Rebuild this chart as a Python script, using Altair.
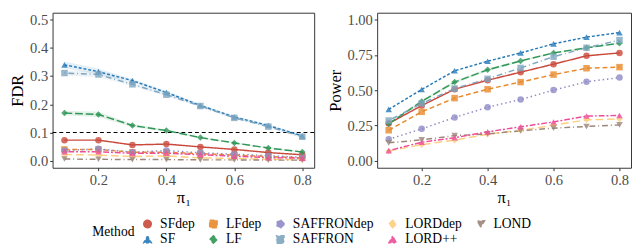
import altair as alt
import pandas as pd

pi_vals = [0.1, 0.2, 0.3, 0.4, 0.5, 0.6, 0.7, 0.8]
methods = ["SFdep", "LFdep", "SAFFRONdep", "LORDdep", "LOND", "SF", "LF", "SAFFRON", "LORD++"]
colors = ["#C94A3C", "#E8892C", "#8E8AC6", "#FDCF7F", "#9C8679",
          "#2479B8", "#2E9657", "#7FA6BF", "#EE4D98"]
shapes = ["circle", "square", "circle", "diamond", "triangle-down",
          "triangle-up", "diamond", "square", "triangle-up"]
dashes = [[1, 0], [5, 3], [1.5, 3], [8, 4], [6, 3, 1, 3],
          [3, 2], [8, 3], [1, 3, 6, 3], [2, 2, 6, 2]]

fdr = {
    "SF":         [0.340, 0.316, 0.284, 0.242, 0.196, 0.155, 0.125, 0.088],
    "SAFFRON":    [0.311, 0.306, 0.271, 0.234, 0.194, 0.152, 0.121, 0.085],
    "LF":         [0.169, 0.164, 0.125, 0.107, 0.082, 0.063, 0.045, 0.031],
    "SFdep":      [0.073, 0.073, 0.056, 0.059, 0.049, 0.040, 0.029, 0.021],
    "SAFFRONdep": [0.036, 0.042, 0.030, 0.036, 0.028, 0.023, 0.018, 0.012],
    "LFdep":      [0.040, 0.040, 0.030, 0.030, 0.025, 0.020, 0.015, 0.010],
    "LORD++":     [0.032, 0.032, 0.026, 0.027, 0.021, 0.016, 0.011, 0.009],
    "LORDdep":    [0.022, 0.020, 0.015, 0.017, 0.010, 0.008, 0.005, 0.004],
    "LOND":       [0.006, 0.005, 0.004, 0.004, 0.003, 0.003, 0.002, 0.002],
}
fdr_band = {
    "SF":      [0.012, 0.010, 0.006, 0.005, 0.004, 0.004, 0.004, 0.004],
    "SAFFRON": [0.010, 0.010, 0.006, 0.005, 0.004, 0.004, 0.004, 0.004],
    "LF":      [0.008, 0.010, 0.005, 0.004, 0.003, 0.003, 0.003, 0.003],
}
power = {
    "SF":         [0.364, 0.505, 0.638, 0.706, 0.765, 0.829, 0.877, 0.909],
    "LF":         [0.262, 0.421, 0.558, 0.645, 0.708, 0.765, 0.801, 0.833],
    "SAFFRON":    [0.285, 0.406, 0.512, 0.581, 0.658, 0.738, 0.801, 0.856],
    "SFdep":      [0.264, 0.391, 0.507, 0.571, 0.628, 0.685, 0.744, 0.765],
    "LFdep":      [0.216, 0.347, 0.444, 0.507, 0.558, 0.611, 0.656, 0.664],
    "SAFFRONdep": [0.152, 0.226, 0.307, 0.379, 0.434, 0.501, 0.560, 0.590],
    "LORD++":     [0.072, 0.131, 0.163, 0.205, 0.241, 0.275, 0.317, 0.321],
    "LORDdep":    [0.068, 0.114, 0.146, 0.188, 0.216, 0.252, 0.290, 0.296],
    "LOND":       [0.127, 0.148, 0.178, 0.190, 0.212, 0.231, 0.243, 0.254],
}
power_band = {
    "LF": [0.010, 0.012, 0.012, 0.010, 0.008, 0.006, 0.005, 0.005],
}


def long_df(values, bands):
    rows = []
    for m in methods:
        for i, p in enumerate(pi_vals):
            v = values[m][i]
            b = bands.get(m)
            rows.append({"pi": p, "value": v, "method": m,
                         "lo": v - b[i] if b else None,
                         "hi": v + b[i] if b else None})
    return pd.DataFrame(rows)


SERIF = "Liberation Serif"

color_scale = alt.Scale(domain=methods, range=colors)
shape_scale = alt.Scale(domain=methods, range=shapes)
dash_scale = alt.Scale(domain=methods, range=dashes)


def mk_axis(values, fmt, title):
    return alt.Axis(values=values, format=fmt, title=title,
                    labelFont=SERIF, labelFontSize=15, labelColor="#4D4D4D",
                    labelFontWeight="normal",
                    titleFont=SERIF, titleFontSize=17, titleFontWeight="normal",
                    titleColor="black")


xenc = alt.X("pi:Q", scale=alt.Scale(domain=[0.065, 0.835], nice=False, zero=False),
             axis=mk_axis([0.2, 0.4, 0.6, 0.8], ".1f", "π₁"))

legend = alt.Legend(orient="none", legendX=41, legendY=211,
                    direction="horizontal", columns=5,
                    titleOrient="left", titleAnchor="middle",
                    titleFont=SERIF, titleFontSize=14, titleFontWeight="normal",
                    titleColor="black", titlePadding=6,
                    labelFont=SERIF, labelFontSize=14, labelFontWeight="normal",
                    labelColor="black", labelOffset=6,
                    columnPadding=12, rowPadding=2,
                    symbolSize=60, symbolOpacity=0.9)


def panel(df, title, ydomain, yticks, yfmt, width, hline=None):
    yscale = alt.Scale(domain=ydomain, nice=False, zero=False)
    yaxis = mk_axis(yticks, yfmt, title)
    base = alt.Chart(df)
    ribbon = base.transform_filter("datum.lo != null").mark_area(opacity=0.13).encode(
        x=xenc,
        y=alt.Y("lo:Q", scale=yscale, axis=yaxis),
        y2="hi:Q",
        color=alt.Color("method:N", scale=color_scale, title="Method", legend=legend),
        detail="method:N",
    )
    line = base.mark_line(strokeWidth=1.5).encode(
        x=xenc,
        y=alt.Y("value:Q", scale=yscale, axis=yaxis),
        color=alt.Color("method:N", scale=color_scale, title="Method", legend=legend),
        strokeDash=alt.StrokeDash("method:N", scale=dash_scale, legend=None),
    )
    pts = base.mark_point(filled=True, size=45, opacity=0.8).encode(
        x=xenc,
        y=alt.Y("value:Q", scale=yscale, axis=yaxis),
        color=alt.Color("method:N", scale=color_scale, title="Method", legend=legend),
        shape=alt.Shape("method:N", scale=shape_scale, title="Method", legend=legend),
    )
    layers = [ribbon, line, pts]
    if hline is not None:
        rule = alt.Chart(pd.DataFrame({"h": [hline]})).mark_rule(
            color="black", strokeDash=[4, 3], strokeWidth=1.2).encode(
            y=alt.Y("h:Q", scale=yscale, axis=yaxis))
        layers.insert(0, rule)
    return alt.layer(*layers).properties(width=width, height=160)


left = panel(long_df(fdr, fdr_band), "FDR", [-0.025, 0.525],
             [0, 0.1, 0.2, 0.3, 0.4, 0.5], ".1f", 270, hline=0.1)
right = panel(long_df(power, power_band), "Power", [-0.05, 1.05],
              [0, 0.25, 0.5, 0.75, 1.0], ".2f", 262)

chart = alt.hconcat(left, right, spacing=10).resolve_scale(
    color="shared", shape="shared", strokeDash="shared"
).resolve_legend(color="shared", shape="shared").properties(padding=0).configure_view(
    stroke="#333333", strokeWidth=1
).configure_axis(
    tickColor="#333333", tickSize=3, domain=False, grid=False,
    labelPadding=2, titlePadding=3,
)

chart.save("out.html", embed_options={"renderer": "svg", "actions": False})
